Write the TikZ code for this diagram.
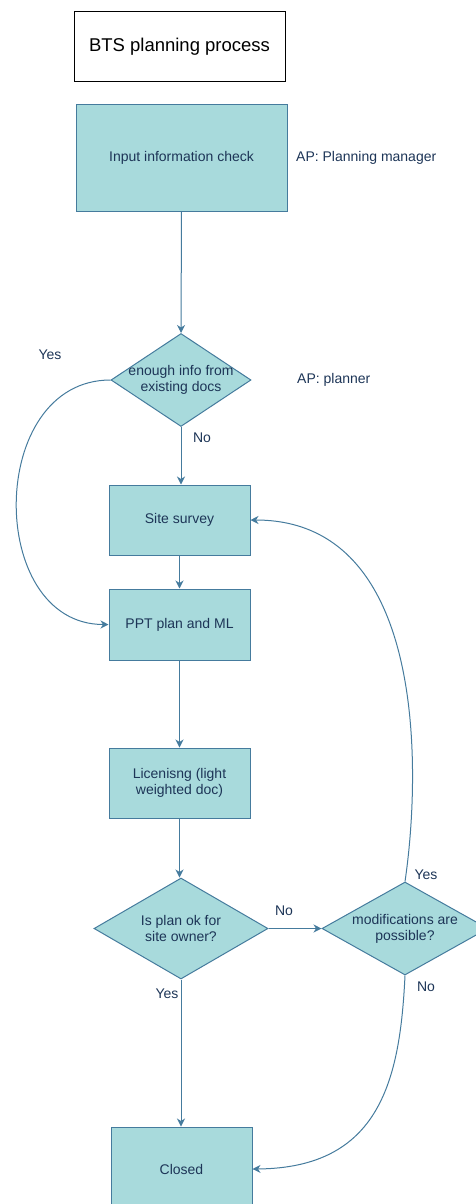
\documentclass[tikz,border=0pt]{standalone}
\usepackage{fontspec}
\setmainfont{Liberation Sans}
\usetikzlibrary{arrows.meta,shapes.geometric}
\definecolor{boxfill}{HTML}{A8DADC}
\definecolor{boxline}{HTML}{457B9D}
\definecolor{txt}{HTML}{1D3557}
\begin{document}
\begin{tikzpicture}[x=1pt,y=-1pt,
  procbox/.style={draw=boxline,fill=boxfill,line width=1pt,text=txt,align=center,font=\fontsize{14}{16}\selectfont,inner sep=0pt},
  decide/.style={diamond,draw=boxline,fill=boxfill,line width=1pt,inner sep=0pt,aspect=1.5},
  dtext/.style={text=txt,align=center,font=\fontsize{14}{16}\selectfont,inner sep=0pt},
  lbl/.style={text=txt,font=\fontsize{14}{16}\selectfont,inner sep=0pt},
  conn/.style={draw=boxline,line width=1pt,-{Stealth[length=8pt,width=8pt,inset=2.5pt]}}]
\useasboundingbox (0,0) rectangle (475,1204);
% title
\node[draw=black,line width=1pt,minimum width=211pt,minimum height=70pt,inner sep=0pt,font=\fontsize{18.5}{22}\selectfont,text=black] (title) at (179.5,47) {BTS planning process};
% process boxes
\node[procbox,minimum width=211pt,minimum height=106pt] (input) at (181.5,158) {Input information check};
\node[lbl,anchor=west] (ap1) at (296,158) {AP: Planning manager};
\node[decide,minimum width=140pt,minimum height=93pt,label={[dtext]center:enough info from\\existing docs}] (d1) at (181,380) {};
\node[lbl,anchor=west] (ap2) at (297,380) {AP: planner};
\node[procbox,minimum width=141pt,minimum height=70pt] (survey) at (179.5,520) {Site survey};
\node[procbox,minimum width=141pt,minimum height=71pt] (ppt) at (179.5,624.5) {PPT plan and ML};
\node[procbox,minimum width=141pt,minimum height=70pt] (lic) at (179.5,783) {Licenisng (light\\weighted doc)};
\node[decide,minimum width=174pt,minimum height=101pt,label={[dtext]center:Is plan ok for\\site owner?}] (d2) at (181,928.5) {};
\node[decide,minimum width=166pt,minimum height=93pt,label={[dtext]center:modifications are\\possible?}] (d3) at (405,928.5) {};
\node[procbox,minimum width=141pt,minimum height=84pt] (closed) at (181.5,1169) {Closed};
% labels
\node[lbl] (yes1) at (50,355) {Yes};
\node[lbl] (no1) at (202,438) {No};
\node[lbl] (no2) at (284,911) {No};
\node[lbl] (yes3) at (426,875) {Yes};
\node[lbl] (no3) at (426,987) {No};
\node[lbl] (yes2) at (167,994) {Yes};
% connectors
\draw[conn] (input.south) -- (d1.north);
\draw[conn] (d1.south) -- (d1.south |- survey.north);
\draw[conn] (survey.south) -- (ppt.north);
\draw[conn] (ppt.south) -- (lic.north);
\draw[conn] (lic.south) -- (lic.south |- d2.north);
\draw[conn] (d2.east) -- (d3.west);
\draw[conn] (d2.south) -- (d2.south |- closed.north);
\draw[conn] (d1.west) .. controls (-14,380) and (-14,624.5) .. (ppt.west);
\draw[conn] (d3.north) .. controls (420,780) and (430,520) .. (survey.east);
\draw[conn] (d3.south) .. controls (400,1080) and (380,1168) .. (closed.east);
\end{tikzpicture}
\end{document}
